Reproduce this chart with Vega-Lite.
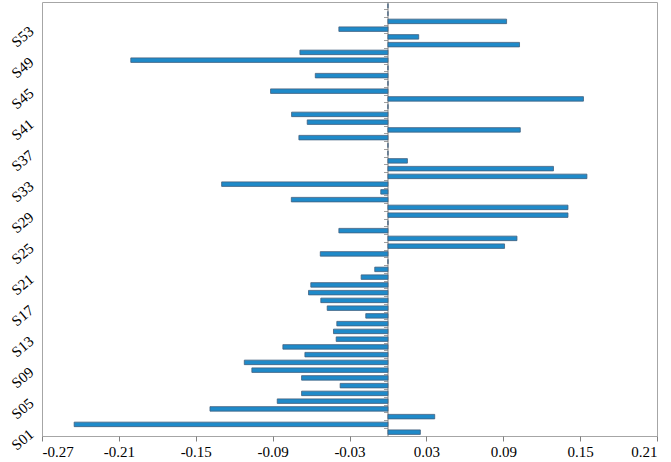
{
  "$schema": "https://vega.github.io/schema/vega-lite/v6.json",
  "width": 615,
  "height": 434,
  "autosize": "none",
  "padding": {"left": 42, "top": 2, "right": 14, "bottom": 26},
  "config": {
    "view": {"stroke": "#a6a6a6", "strokeWidth": 1},
    "axis": {
      "labelFont": "Liberation Serif",
      "labelFontSize": 15,
      "labelColor": "#000000",
      "grid": false,
      "title": null
    }
  },
  "data": {
    "values": [
      {"site": "S01", "value": 0.0253},
      {"site": "S02", "value": -0.2449},
      {"site": "S03", "value": 0.0365},
      {"site": "S04", "value": -0.1389},
      {"site": "S05", "value": -0.0864},
      {"site": "S06", "value": -0.0674},
      {"site": "S07", "value": -0.0373},
      {"site": "S08", "value": -0.0674},
      {"site": "S09", "value": -0.1062},
      {"site": "S10", "value": -0.1121},
      {"site": "S11", "value": -0.0648},
      {"site": "S12", "value": -0.082},
      {"site": "S13", "value": -0.0404},
      {"site": "S14", "value": -0.0425},
      {"site": "S15", "value": -0.0399},
      {"site": "S16", "value": -0.0173},
      {"site": "S17", "value": -0.0474},
      {"site": "S18", "value": -0.0524},
      {"site": "S19", "value": -0.062},
      {"site": "S20", "value": -0.0602},
      {"site": "S21", "value": -0.0209},
      {"site": "S22", "value": -0.0103},
      {"site": "S23", "value": 0},
      {"site": "S24", "value": -0.0528},
      {"site": "S25", "value": 0.091},
      {"site": "S26", "value": 0.1007},
      {"site": "S27", "value": -0.0383},
      {"site": "S28", "value": 0},
      {"site": "S29", "value": 0.1405},
      {"site": "S30", "value": 0.1405},
      {"site": "S31", "value": -0.0754},
      {"site": "S32", "value": -0.0056},
      {"site": "S33", "value": -0.1298},
      {"site": "S34", "value": 0.1553},
      {"site": "S35", "value": 0.1292},
      {"site": "S36", "value": 0.0152},
      {"site": "S37", "value": 0},
      {"site": "S38", "value": 0},
      {"site": "S39", "value": -0.0695},
      {"site": "S40", "value": 0.1033},
      {"site": "S41", "value": -0.063},
      {"site": "S42", "value": -0.0752},
      {"site": "S43", "value": 0},
      {"site": "S44", "value": 0.1526},
      {"site": "S45", "value": -0.0916},
      {"site": "S46", "value": 0},
      {"site": "S47", "value": -0.0567},
      {"site": "S48", "value": 0},
      {"site": "S49", "value": -0.2007},
      {"site": "S50", "value": -0.0687},
      {"site": "S51", "value": 0.1027},
      {"site": "S52", "value": 0.024},
      {"site": "S53", "value": -0.0383},
      {"site": "S54", "value": 0.0926},
      {"site": "S55", "value": 0},
      {"site": "S56", "value": 0}
    ]
  },
  "encoding": {
    "y": {
      "field": "site",
      "type": "nominal",
      "sort": "descending",
      "scale": {"paddingInner": 0, "paddingOuter": 0}
    }
  },
  "layer": [
    {
      "mark": {"type": "bar", "size": 4.5, "fill": "#1f8ac9", "stroke": "#41607e", "strokeWidth": 0.8},
      "encoding": {
        "x": {
          "field": "value",
          "type": "quantitative",
          "scale": {"domain": [-0.27, 0.21], "nice": false, "zero": false},
          "axis": {
            "values": [-0.27, -0.21, -0.15, -0.09, -0.03, 0.03, 0.09, 0.15, 0.21],
            "labelExpr": "replace(format(datum.value, '.2f'), '\u2212', '-')",
            "domain": false,
            "tickColor": "#808080",
            "tickSize": 5,
            "labelPadding": 3
          }
        },
        "y": {
          "field": "site",
          "type": "nominal",
          "sort": "descending",
          "axis": {
            "values": ["S01", "S05", "S09", "S13", "S17", "S21", "S25", "S29", "S33", "S37", "S41", "S45", "S49", "S53"],
            "domain": false,
            "ticks": false,
            "labelAngle": -40,
            "labelPadding": 11
          }
        }
      }
    },
    {
      "mark": {"type": "point", "opacity": 0},
      "encoding": {
        "x": {"datum": 0, "type": "quantitative"},
        "y": {
          "field": "site",
          "type": "nominal",
          "sort": "descending",
          "axis": {
            "orient": "left",
            "offset": -345.5,
            "labels": false,
            "domainColor": "#808080",
            "tickColor": "#a0a0a0",
            "tickSize": 4,
            "bandPosition": 0
          }
        }
      }
    }
  ],
  "resolve": {"axis": {"y": "independent"}}
}
